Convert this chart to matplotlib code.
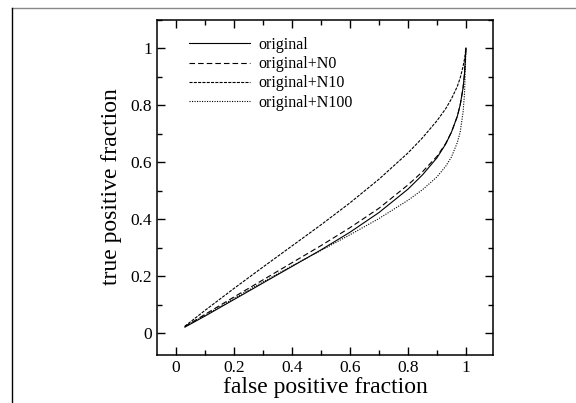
"""ROC curves for the original sample and its noise-augmented variants."""

import numpy as np

import matplotlib
matplotlib.use("Agg")
import matplotlib.pyplot as plt
from matplotlib.lines import Line2D
from matplotlib.ticker import MultipleLocator

# false positive fraction sampled along the curves
fpf = [0.03, 0.10, 0.20, 0.30, 0.40, 0.50, 0.60, 0.70, 0.80, 0.85,
       0.90, 0.93, 0.95, 0.97, 0.98, 0.99, 0.995, 1.0]

# true positive fraction for each sample
tpf_original = [0.021, 0.060, 0.118, 0.176, 0.234, 0.292, 0.354, 0.423, 0.505, 0.555,
                0.615, 0.663, 0.705, 0.760, 0.800, 0.860, 0.910, 1.0]
tpf_n0 = [0.023, 0.066, 0.127, 0.187, 0.247, 0.307, 0.370, 0.438, 0.520, 0.566,
          0.620, 0.665, 0.705, 0.760, 0.800, 0.860, 0.910, 1.0]
tpf_n10 = [0.024, 0.080, 0.157, 0.232, 0.306, 0.380, 0.457, 0.540, 0.632, 0.685,
           0.745, 0.787, 0.822, 0.865, 0.895, 0.935, 0.962, 1.0]
tpf_n100 = [0.022, 0.063, 0.122, 0.180, 0.236, 0.290, 0.345, 0.402, 0.466, 0.503,
            0.548, 0.585, 0.618, 0.668, 0.705, 0.775, 0.840, 1.0]

labels = ["original", "original+N0", "original+N10", "original+N100"]

plt.rcParams["font.family"] = ["Liberation Serif", "DejaVu Serif"]
plt.rcParams["lines.scale_dashes"] = False

fig = plt.figure(figsize=(5.76, 4.03), dpi=100)

# page frame (top and left edges only)
fig.add_artist(Line2D([12 / 576, 1.0], [1 - 7.5 / 403] * 2,
                      color="#888888", lw=1.0, transform=fig.transFigure))
fig.add_artist(Line2D([12 / 576] * 2, [0.0, 1 - 7.5 / 403],
                      color="black", lw=1.0, transform=fig.transFigure))

ax = fig.add_axes([157.3 / 576, 1 - 354.5 / 403,
                   336.2 / 576, 335.0 / 403])

styles = [
    dict(linestyle="-"),
    dict(dashes=(4.0, 2.2)),
    dict(dashes=(2.2, 0.9)),
    dict(dashes=(0.8, 1.0)),
]
series = [tpf_original, tpf_n0, tpf_n10, tpf_n100]
for tpf, label, st in zip(series, labels, styles):
    ax.plot(fpf, tpf, color="black", lw=0.8, label=label, **st)

ax.set_xlim(-0.065, 1.095)
ax.set_ylim(-0.075, 1.1)

ax.xaxis.set_major_locator(MultipleLocator(0.2))
ax.xaxis.set_minor_locator(MultipleLocator(0.1))
ax.yaxis.set_major_locator(MultipleLocator(0.2))
ax.yaxis.set_minor_locator(MultipleLocator(0.1))
ax.xaxis.set_major_formatter(lambda v, p: f"{v:g}")
ax.yaxis.set_major_formatter(lambda v, p: f"{v:g}")

ax.tick_params(which="both", direction="in", top=True, right=True,
               width=1.0, labelsize=12.5, pad=4)
ax.tick_params(which="major", length=5.5)
ax.tick_params(which="minor", length=3.5)
for sp in ax.spines.values():
    sp.set_linewidth(1.1)

ax.set_xlabel("false positive fraction", fontsize=17, labelpad=1)
ax.set_ylabel("true positive fraction", fontsize=17, labelpad=6)

ax.legend(loc="upper left", bbox_to_anchor=(0.094, 0.948), frameon=False,
          fontsize=11.5, handlelength=3.8, handletextpad=0.55,
          labelspacing=0.2, borderpad=0, borderaxespad=0)

fig.savefig("out.png", dpi=100)
plt.close(fig)
